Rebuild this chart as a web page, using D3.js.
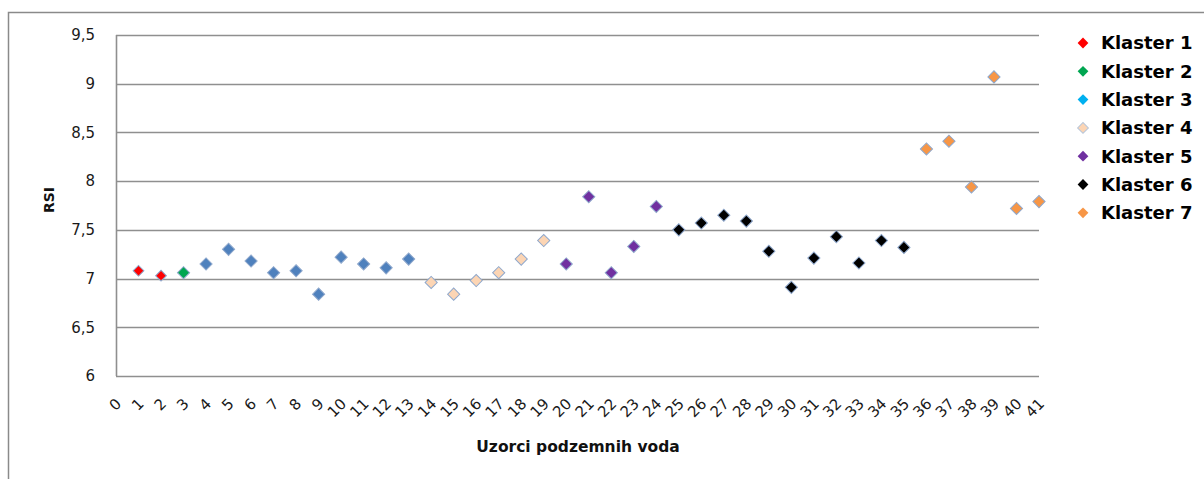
<!DOCTYPE html>
<html>
<head>
<meta charset="utf-8">
<script src="https://cdn.jsdelivr.net/npm/d3@7"></script>
<style>
  html, body { margin: 0; padding: 0; background: #ffffff; }
  svg { display: block; }
</style>
</head>
<body>
<svg id="chart" width="1204" height="479"></svg>
<script>
// RSI value per groundwater sample (samples 1..41)
const sampleIds = d3.range(1, 42);
const rsiValues = [
  7.08, 7.03, 7.06, 7.15, 7.30, 7.18, 7.06, 7.08, 6.84, 7.22,
  7.15, 7.11, 7.20, 6.96, 6.84, 6.98, 7.06, 7.20, 7.39, 7.15,
  7.84, 7.06, 7.33, 7.74, 7.50, 7.57, 7.65, 7.59, 7.28, 6.91,
  7.21, 7.43, 7.16, 7.39, 7.32, 8.33, 8.41, 7.94, 9.07, 7.72,
  7.79
];
// cluster index (0-based) of each sample
const sampleCluster = [
  0, 0, 1, 2, 2, 2, 2, 2, 2, 2,
  2, 2, 2, 3, 3, 3, 3, 3, 3, 4,
  4, 4, 4, 4, 5, 5, 5, 5, 5, 5,
  5, 5, 5, 5, 5, 6, 6, 6, 6, 6,
  6
];
const clusterNames = ["Klaster 1", "Klaster 2", "Klaster 3", "Klaster 4", "Klaster 5", "Klaster 6", "Klaster 7"];
const markerColors = ["#ff0000", "#00a651", "#4f81bd", "#fcd5b4", "#7030a0", "#000000", "#f79646"];
const legendColors = ["#ff0000", "#00a651", "#00b0f0", "#fcd5b4", "#7030a0", "#000000", "#f79646"];
const yTickValues = [6, 6.5, 7, 7.5, 8, 8.5, 9, 9.5];
const xTickValues = d3.range(0, 42);

const svg = d3.select("#chart");
const font = "'DejaVu Sans', Verdana, sans-serif";

// chart frame
svg.append("path")
  .attr("d", "M8.5,479 V12.5 H1204")
  .attr("fill", "none")
  .attr("stroke", "#8a8a8a")
  .attr("stroke-width", 1.5);

const x = d3.scaleLinear().domain([0, 41]).range([116, 1039]);
const y = d3.scaleLinear().domain([6, 9.5]).range([376, 35]);

// horizontal gridlines
svg.append("g")
  .selectAll("line")
  .data(yTickValues)
  .join("line")
  .attr("x1", x(0)).attr("x2", x(41))
  .attr("y1", d => Math.round(y(d)) + 0.5).attr("y2", d => Math.round(y(d)) + 0.5)
  .attr("stroke", "#8f8f8f")
  .attr("stroke-width", 1.6);

// vertical axis line
svg.append("line")
  .attr("x1", x(0) + 0.5).attr("x2", x(0) + 0.5)
  .attr("y1", y(9.5)).attr("y2", y(6))
  .attr("stroke", "#8f8f8f")
  .attr("stroke-width", 1.6);

// y axis labels (decimal comma)
const yAxis = d3.axisLeft(y)
  .tickValues(yTickValues)
  .tickSize(0)
  .tickPadding(21)
  .tickFormat(d => String(d).replace(".", ","));
const gy = svg.append("g").attr("transform", `translate(${x(0)},0)`).call(yAxis);
gy.select(".domain").remove();
gy.selectAll("text")
  .attr("font-family", font)
  .attr("font-size", 15)
  .attr("fill", "#1a1a1a");

// x axis labels, rotated
const xAxis = d3.axisBottom(x)
  .tickValues(xTickValues)
  .tickSize(0)
  .tickFormat(d3.format("d"));
const gx = svg.append("g").attr("transform", `translate(0,${y(6)})`).call(xAxis);
gx.select(".domain").remove();
gx.selectAll("text")
  .attr("font-family", font)
  .attr("font-size", 15)
  .attr("fill", "#1a1a1a")
  .attr("text-anchor", "end")
  .attr("y", 0)
  .attr("dy", "0.35em")
  .attr("transform", "translate(2,25) rotate(-45)");

// axis titles
svg.append("text")
  .attr("x", 578).attr("y", 452)
  .attr("text-anchor", "middle")
  .attr("font-family", font)
  .attr("font-weight", "bold")
  .attr("font-size", 15.5)
  .attr("fill", "#111")
  .text("Uzorci podzemnih voda");

svg.append("text")
  .attr("transform", "translate(54,200) rotate(-90)")
  .attr("text-anchor", "middle")
  .attr("font-family", font)
  .attr("font-weight", "bold")
  .attr("font-size", 14)
  .attr("fill", "#111")
  .text("RSI");

// diamond markers
const diamond = size => d3.symbol().type(d3.symbolSquare).size(size)();

svg.append("g")
  .selectAll("path")
  .data(sampleIds.map((id, i) => ({ id, v: rsiValues[i], c: sampleCluster[i] })))
  .join("path")
  .attr("d", d => diamond(d.c === 0 ? 58 : 74))
  .attr("transform", d => `translate(${x(d.id)},${y(d.v)}) rotate(45)`)
  .attr("fill", d => markerColors[d.c])
  .attr("stroke", "#8fa8cc")
  .attr("stroke-width", 1);

// legend
const legend = svg.append("g")
  .selectAll("g")
  .data(clusterNames)
  .join("g")
  .attr("transform", (d, i) => `translate(1083,${43 + i * 28.3})`);

legend.append("path")
  .attr("d", diamond(58))
  .attr("transform", "rotate(45)")
  .attr("fill", (d, i) => legendColors[i])
  .attr("stroke", (d, i) => i === 3 ? "#b9c6d8" : "none")
  .attr("stroke-width", 1);

legend.append("text")
  .attr("x", 18)
  .attr("dy", "0.36em")
  .attr("font-family", font)
  .attr("font-weight", "bold")
  .attr("font-size", 18)
  .attr("fill", "#000")
  .text(d => d);
</script>
</body>
</html>
